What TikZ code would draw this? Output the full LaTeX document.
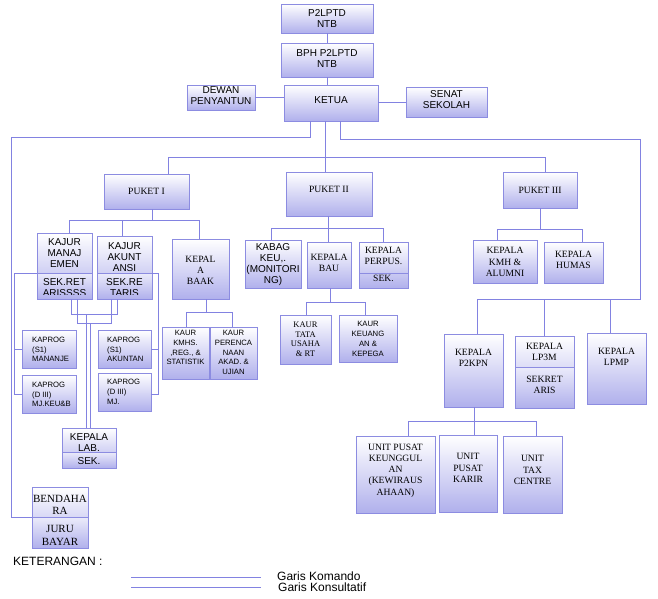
\documentclass[tikz,border=0pt]{standalone}
\usepackage{fontspec}
\setmainfont{Liberation Serif}
\setsansfont{Liberation Sans}
\definecolor{bordc}{RGB}{140,140,225}
\definecolor{lavc}{RGB}{176,176,236}
\definecolor{linec}{RGB}{130,130,225}
\tikzset{
 box/.style={draw=bordc, line width=0.8pt, top color=white, bottom color=lavc, inner sep=0pt, outer sep=0pt, rectangle},
 bord/.style={draw=bordc, line width=0.8pt},
 lowshade/.style={top color=lavc!25, bottom color=lavc},
 conn/.style={draw=linec, line width=0.9pt},
 sfA/.style={font=\sffamily\fontsize{10}{11}\selectfont, align=center, inner sep=0pt},
 sfS/.style={font=\sffamily\fontsize{7.7}{9.8}\selectfont, align=center, inner sep=0pt},
 sfL/.style={font=\sffamily\fontsize{7.7}{9.8}\selectfont, align=left, inner sep=0pt, anchor=west},
 rmA/.style={font=\rmfamily\fontsize{9.6}{11.2}\selectfont, align=center, inner sep=0pt},
 rmC/.style={font=\rmfamily\fontsize{8.5}{9.5}\selectfont, align=center, inner sep=0pt},
 rmB/.style={font=\rmfamily\fontsize{11}{12.5}\selectfont, align=center, inner sep=0pt},
 leg/.style={font=\sffamily\fontsize{12}{14}\selectfont, inner sep=0pt, anchor=west},
}
\newcommand\bx[5]{\node[box, minimum width={(#4)-(#2)}, minimum height={(#5)-(#3)}] (#1) at ({((#2)+(#4))/2},{((#3)+(#5))/2}) {};}
\newcommand\splitbx[2]{%
 \shade[lowshade] (#1.south west) rectangle (#1.east |- 0,#2);
 \draw[bord] (#1.south west) rectangle (#1.north east);
 \draw[bord] (#1.west |- 0,#2) -- (#1.east |- 0,#2);}
\begin{document}
\begin{tikzpicture}[x=1pt,y=-1pt]
\fill[white] (0,0) rectangle (658,598);
\useasboundingbox (0,0) rectangle (658,598);

% ---------- top ----------
\bx{p2l}{281}{4}{373}{33}
\node[sfA] (tp2l) at (327,18.5) {P2LPTD\\NTB};
\bx{bph}{281}{43}{373}{77}
\node[sfA] (tbph) at (327,58.5) {BPH P2LPTD\\NTB};
\bx{ketua}{284}{85}{378}{121}
\node[sfA] (tketua) at (331,100.5) {KETUA};
\bx{dewan}{187}{85}{255}{110}
\node[sfA] (tdewan) at (221,96) {DEWAN\\PENYANTUN};
\bx{senat}{406}{87}{487}{117}
\node[sfA] (tsenat) at (446.5,100) {SENAT\\SEKOLAH};

% ---------- pukets ----------
\bx{puket1}{104}{174}{189}{209}
\node[rmA] (tpuket1) at (146.5,191.5) {PUKET I};
\bx{puket2}{286}{172}{372}{216}
\node[rmA] (tpuket2) at (329,189.5) {PUKET II};
\bx{puket3}{503}{172}{577}{208}
\node[rmA] (tpuket3) at (540,190.5) {PUKET III};

% ---------- puket I subtree ----------
\bx{kajurM}{37}{233}{92}{299}
\splitbx{kajurM}{273}
\node[sfA] (tkajurM) at (64.5,253.5) {KAJUR\\MANAJ\\EMEN};
\begin{scope}
\clip (kajurM.west |- 0,274) rectangle (kajurM.east |- 0,294.5);
\node[sfA] (tkajurMb) at (64.5,288) {SEK.RET\\ARISSSS};
\end{scope}
\bx{kajurA}{97}{236}{152}{299}
\splitbx{kajurA}{273}
\node[sfA] (tkajurA) at (124.5,257.5) {KAJUR\\AKUNT\\ANSI};
\begin{scope}
\clip (kajurA.west |- 0,274) rectangle (kajurA.east |- 0,294.5);
\node[sfA] (tkajurAb) at (124.5,288) {SEK.RE\\TARIS};
\end{scope}
\bx{baak}{172}{239}{229}{299}
\node[rmA] (tbaak) at (200.5,270.5) {KEPAL\\A\\BAAK};
\bx{kaur1}{162}{327}{209}{379}
\node[sfS] (tkaur1) at (185.5,347.5) {KAUR\\KMHS.\\,REG., \&\\STATISTIK};
\bx{kaur2}{210}{327}{257}{379}
\node[sfS] (tkaur2) at (233.5,352.5) {KAUR\\PERENCA\\NAAN\\AKAD. \&\\UJIAN};
\bx{kaprog1}{22}{330}{76}{368}
\node[sfL] (tkaprog1) at (32,349.5) {KAPROG\\(S1)\\MANANJE};
\bx{kaprog2}{22}{375}{76}{413}
\node[sfL] (tkaprog2) at (32,394.5) {KAPROG\\(D III)\\MJ.KEU\&B};
\bx{kaprog3}{98}{330}{151}{368}
\node[sfL] (tkaprog3) at (107,349.5) {KAPROG\\(S1)\\AKUNTAN};
\bx{kaprog4}{98}{373}{151}{411}
\node[sfL] (tkaprog4) at (107,392) {KAPROG\\(D III)\\MJ.};
\bx{lab}{62}{428}{116}{468}
\splitbx{lab}{452}
\node[sfA] (tlab) at (89,443) {KEPALA\\LAB.};
\node[sfA] (tlabb) at (89,461) {SEK.};
\bx{bend}{32}{487}{88}{548}
\splitbx{bend}{517}
\node[rmB] (tbend) at (60,505) {BENDAHA\\RA};
\node[rmB] (tbendb) at (60,535.5) {JURU\\BAYAR};

% ---------- puket II subtree ----------
\bx{kabag}{245}{240}{301}{288}
\node[sfA] (tkabag) at (273,264.5) {KABAG\\KEU,.\\(MONITORI\\NG)};
\bx{bau}{307}{242}{351}{288}
\node[rmA] (tbau) at (329,263) {KEPALA\\BAU};
\bx{perpus}{359}{242}{408}{288}
\draw[bord] (perpus.west |- 0,273) -- (perpus.east |- 0,273);
\node[rmA] (tperpus) at (383.5,255.5) {KEPALA\\PERPUS.};
\node[rmA] (tperpusb) at (383.5,278) {SEK.};
\bx{kaurTU}{280}{315}{331}{364}
\node[rmC] (tkaurTU) at (305.5,339) {KAUR\\TATA\\USAHA\\\& RT};
\bx{kaurKeu}{339}{315}{397}{362}
\node[sfS] (tkaurKeu) at (368,339) {KAUR\\KEUANG\\AN \&\\KEPEGA};

% ---------- puket III subtree ----------
\bx{kmh}{473}{240}{537}{283}
\node[rmA] (tkmh) at (505,262) {KEPALA\\KMH \&\\ALUMNI};
\bx{humas}{544}{242}{603}{283}
\node[rmA] (thumas) at (573.5,259.5) {KEPALA\\HUMAS};

% ---------- lembaga ----------
\bx{p2kpn}{444}{334}{503}{407}
\node[rmA] (tp2kpn) at (473.5,357.5) {KEPALA\\P2KPN};
\bx{lp3m}{515}{336}{574}{408}
\splitbx{lp3m}{367}
\node[rmA] (tlp3m) at (544.5,352) {KEPALA\\LP3M};
\node[rmA] (tlp3mb) at (544.5,385) {SEKRET\\ARIS};
\bx{lpmp}{587}{333}{646}{404}
\node[rmA] (tlpmp) at (616.5,356.5) {KEPALA\\LPMP};
\bx{unit1}{356}{436}{435}{513}
\node[rmA] (tunit1) at (395.5,470.5) {UNIT PUSAT\\KEUNGGUL\\AN\\(KEWIRAUS\\AHAAN)};
\bx{unit2}{439}{435}{497}{512}
\node[rmA] (tunit2) at (468,468) {UNIT\\PUSAT\\KARIR};
\bx{unit3}{503}{436}{562}{513}
\node[rmA] (tunit3) at (532.5,470) {UNIT\\TAX\\CENTRE};

% ---------- connectors ----------
\draw[conn] (p2l.south) -- (bph.north);
\draw[conn] (bph.south) -- (bph.south |- ketua.north);
\draw[conn] (dewan.east) -- (dewan.east -| ketua.west);
\draw[conn] (senat.west) -- (senat.west -| ketua.east);
\draw[conn] (ketua.south -| 310,0) |- (11,137) |- (bend.west |- 0,517);
\draw[conn] (ketua.south -| 325,0) -- (puket2.north -| 325,0);
\draw[conn] (puket1.north -| 168,0) -- (168,157) -- (545,157) -- (puket3.north -| 545,0);
\draw[conn] (ketua.south -| 340,0) |- (640,139) |- (477,299) -- (p2kpn.north -| 477,0);
\draw[conn] (544,299) -- (lp3m.north -| 544,0);
\draw[conn] (610,299) -- (lpmp.north -| 610,0);

\draw[conn] (puket1.south -| 152,0) -- (152,220);
\draw[conn] (kajurM.north -| 69,0) |- (199,220) -- (baak.north -| 199,0);
\draw[conn] (kajurA.north -| 122,0) -- (122,220);
\draw[conn] (kajurM.south -| 71,0) |- (117,314) -- (kajurA.south -| 117,0);
\draw[conn] (kajurM.south -| 77,0) |- (111,323) -- (kajurA.south -| 111,0);
\draw[conn] (86,314) -- (lab.north -| 86,0);
\draw[conn] (90,323) -- (lab.north -| 90,0);
\draw[conn] (kajurM.west |- 0,273) -| (14,394) -- (kaprog2.west |- 0,394);
\draw[conn] (14,349) -- (kaprog1.west |- 0,349);
\draw[conn] (kajurA.east |- 0,273) -| (158,394) -- (kaprog4.east |- 0,394);
\draw[conn] (158,349) -- (kaprog3.east |- 0,349);
\draw[conn] (baak.south -| 206,0) -- (206,312);
\draw[conn] (kaur1.north -| 186,0) |- (232,312) -- (kaur2.north -| 232,0);

\draw[conn] (puket2.south -| 328,0) -- (bau.north -| 328,0);
\draw[conn] (kabag.north -| 271,0) |- (383,228) -- (perpus.north -| 383,0);
\draw[conn] (bau.south -| 330,0) -- (330,302);
\draw[conn] (kaurTU.north -| 306,0) |- (365,302) -- (kaurKeu.north -| 365,0);

\draw[conn] (puket3.south -| 540,0) -- (540,229);
\draw[conn] (kmh.north -| 497,0) |- (582,229) -- (humas.north -| 582,0);

\draw[conn] (p2kpn.south -| 474,0) -- (unit2.north -| 474,0);
\draw[conn] (unit1.north -| 408,0) |- (536,421) -- (unit3.north -| 536,0);

% ---------- legend ----------
\node[leg] (ket) at (13,561.5) {KETERANGAN :};
\coordinate (l1a) at (131,577);
\coordinate (l1b) at (261,577);
\coordinate (l2a) at (131,587);
\coordinate (l2b) at (261,587);
\draw[conn] (l1a) -- (l1b);
\draw[conn] (l2a) -- (l2b);
\node[leg] (lg1) at (277,576) {Garis Komando};
\node[leg] (lg2) at (278,587.5) {Garis Konsultatif};
\end{tikzpicture}
\end{document}
